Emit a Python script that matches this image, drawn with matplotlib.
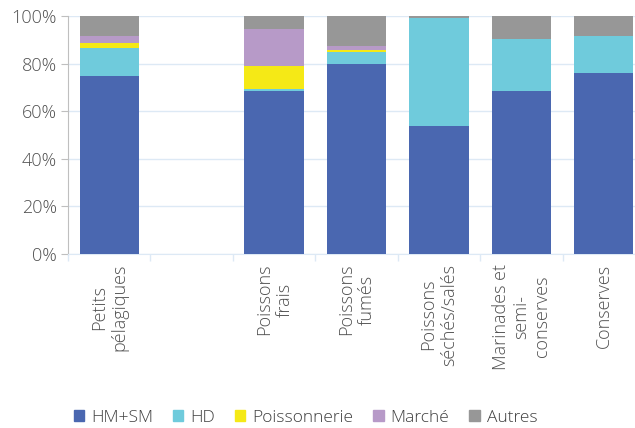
import matplotlib
matplotlib.use("Agg")
import matplotlib.pyplot as plt
import numpy as np
from matplotlib.patches import Patch

plt.rcParams['font.family'] = ['Open Sans', 'DejaVu Sans']

categories = ["Petits\npélagiques", "", "Poissons\nfrais", "Poissons\nfumés",
              "Poissons\nséchés/salés", "Marinades et\nsemi-\nconserves", "Conserves"]
series_names = ["HM+SM", "HD", "Poissonnerie", "Marché", "Autres"]
hm_sm = [74.8, 0, 68.5, 79.8, 53.8, 68.5, 76.1]
hd = [11.9, 0, 0.7, 5.1, 45.4, 21.8, 15.5]
poissonnerie = [1.9, 0, 9.8, 0.8, 0, 0, 0]
marche = [2.9, 0, 15.5, 1.7, 0, 0, 0]
autres = [8.5, 0, 5.5, 12.6, 0.8, 9.7, 8.4]
colors = ["#4a67b0", "#6fcbdc", "#f5e916", "#b79ac8", "#979797"]

fig = plt.figure(figsize=(6.35, 4.28), dpi=100)
# axis runs a bit past the right edge of the picture, like the original
ax = fig.add_axes([68 / 635, (428 - 254) / 428, 577 / 635, 238 / 428])

x = np.arange(len(categories))
bottom = np.zeros(len(categories))
for name, vals, col in zip(series_names, [hm_sm, hd, poissonnerie, marche, autres], colors):
    vals = np.array(vals)
    mask = vals > 0
    ax.bar(x[mask], vals[mask], 0.72, bottom=bottom[mask], color=col, zorder=3)
    bottom += vals

ax.set_ylim(0, 100)
ax.set_xlim(-0.5, 6.5)
ax.set_yticks(np.arange(0, 101, 20))
ax.set_yticklabels([f"{v}%" for v in range(0, 101, 20)])
ax.grid(axis='y', color='#dde9f5', lw=1, zorder=0)

ax.set_xticks(x)
ax.set_xticklabels(categories, rotation=90, ha='center', va='top', multialignment='center',
                   fontweight='light')
ax.set_xticks(np.arange(-0.5, 7, 1), minor=True)
ax.tick_params(axis='x', which='major', length=0, pad=7, labelsize=13, labelcolor='#505050')
ax.tick_params(axis='x', which='minor', length=5, color='#dde9f5', width=1)
ax.tick_params(axis='y', length=5, color='#bfbfbf', labelsize=13, labelcolor='#505050', pad=3)
for lab in ax.get_yticklabels():
    lab.set_fontweight('light')

for s in ['top', 'right']:
    ax.spines[s].set_visible(False)
ax.spines['left'].set_color('#bfbfbf')
ax.spines['bottom'].set_color('#dde9f5')

handles = [Patch(color=c, label=n) for n, c in zip(series_names, colors)]
fig.legend(handles=handles, loc='center left', bbox_to_anchor=(58 / 635, 1 - 418 / 428), ncol=5,
           frameon=False, handlelength=0.6, handleheight=0.6,
           handletextpad=0.4, columnspacing=1.15, labelcolor='#404040',
           prop={'size': 12.5, 'weight': 'light'})

fig.savefig("out.png", dpi=100)
